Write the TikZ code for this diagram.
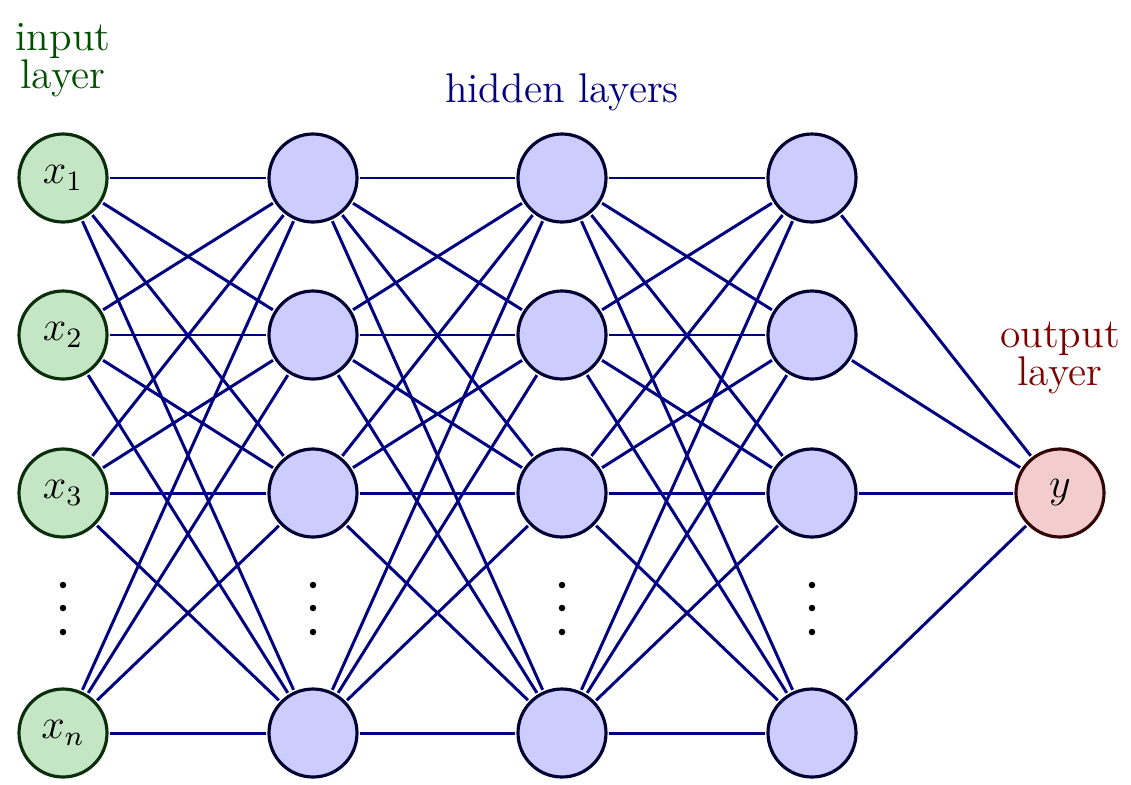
\documentclass[tikz,border=0pt]{standalone}
\usetikzlibrary{calc}
\definecolor{infill}{RGB}{196,230,196}
\definecolor{inborder}{RGB}{10,45,10}
\definecolor{outfill}{RGB}{243,205,205}
\definecolor{outborder}{RGB}{50,5,5}
\definecolor{inlabel}{RGB}{0,80,0}
\begin{document}
\begin{tikzpicture}[x=1cm,y=1cm,
  neuron/.style={circle,minimum size=0.88cm,inner sep=0pt,line width=0.9pt,font=\fontsize{12}{14}\selectfont},
  inneuron/.style={neuron,draw=inborder,fill=infill},
  hidneuron/.style={neuron,draw=blue!20!black,fill=blue!20},
  outneuron/.style={neuron,draw=outborder,fill=outfill},
  conn/.style={draw=blue!50!black,line width=0.85pt,shorten <=0.5pt,shorten >=0.5pt},
  lbl/.style={align=center,font=\fontsize{11.8}{11.8}\selectfont},
  dot/.style={fill=black,circle,inner sep=0pt,minimum size=0.065cm}
]
\useasboundingbox (0,0) rectangle (11.31,7.84);
% input layer
\node[inneuron] (i1) at (0.63,6.06) {$x_1$};
\node[inneuron] (i2) at (0.63,4.49) {$x_2$};
\node[inneuron] (i3) at (0.63,2.91) {$x_3$};
\node[inneuron] (i4) at (0.63,0.51) {$x_n$};
% hidden layers
\foreach \l/\x in {1/3.13,2/5.62,3/8.12}{
  \node[hidneuron] (h\l1) at (\x,6.06) {};
  \node[hidneuron] (h\l2) at (\x,4.49) {};
  \node[hidneuron] (h\l3) at (\x,2.91) {};
  \node[hidneuron] (h\l4) at (\x,0.51) {};
}
% output
\node[outneuron] (o) at (10.60,2.91) {$y$};
% dots
\foreach \n/\x in {a/0.63,b/3.13,c/5.62,d/8.12}{
  \node[dot] (d\n1) at (\x,1.99) {};
  \node[dot] (d\n2) at (\x,1.76) {};
  \node[dot] (d\n3) at (\x,1.52) {};
}
% connections
\foreach \i in {1,2,3,4}{
  \foreach \j in {1,2,3,4}{
    \draw[conn] (i\i) -- (h1\j);
    \draw[conn] (h1\i) -- (h2\j);
    \draw[conn] (h2\i) -- (h3\j);
  }
  \draw[conn] (h3\i) -- (o);
}
% labels
\node[lbl,text=inlabel] (lin) at (0.63,7.24) {input\\[-1pt]layer};
\node[lbl,text=blue!50!black] (lhid) at (5.62,6.92) {hidden layers};
\node[lbl,text=red!50!black] (lout) at (10.60,4.26) {output\\[-1pt]layer};
\end{tikzpicture}
\end{document}
